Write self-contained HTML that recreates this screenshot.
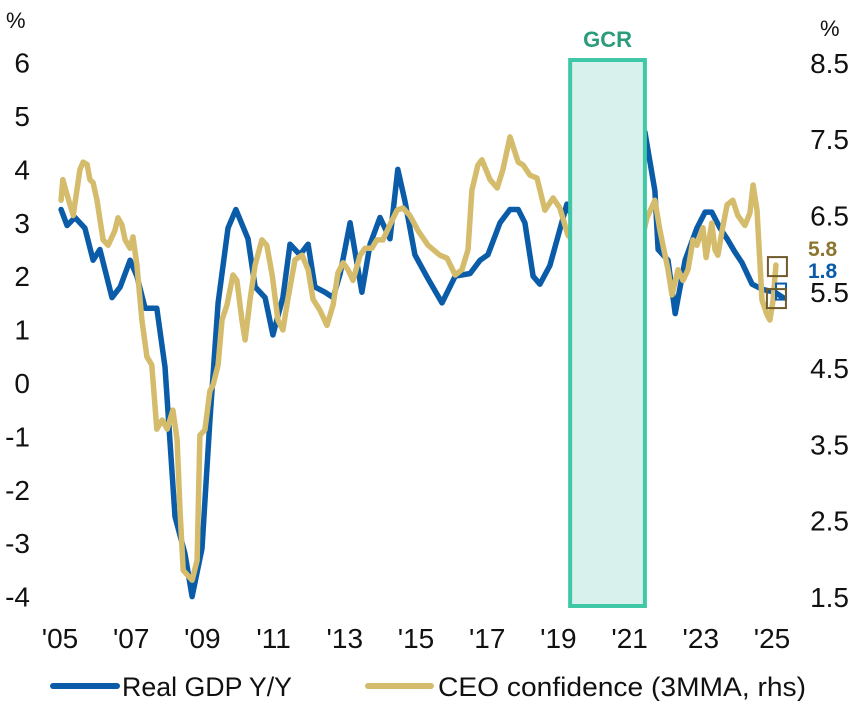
<!DOCTYPE html>
<html><head><meta charset="utf-8">
<style>
html,body{margin:0;padding:0;background:#fff;}
svg{display:block;font-family:"Liberation Sans",sans-serif;}
</style></head>
<body>
<svg id="chart" width="862" height="701" viewBox="0 0 862 701" xmlns="http://www.w3.org/2000/svg">
<g id="axes"></g>
<g id="series"></g>
<g id="overlay"></g>
<g id="legend">
  <line x1="53" y1="686" x2="117" y2="686" stroke="#0A5CA8" stroke-width="6" stroke-linecap="round"/>
  <text x="122" y="696" font-size="27" fill="#111" textLength="170" lengthAdjust="spacingAndGlyphs">Real GDP Y/Y</text>
  <line x1="368" y1="686" x2="431" y2="686" stroke="#D4BC6C" stroke-width="6" stroke-linecap="round"/>
  <text x="438" y="696" font-size="27" fill="#111" textLength="368" lengthAdjust="spacingAndGlyphs">CEO confidence (3MMA, rhs)</text>
</g>
</svg>
<script>
const gdpDates=[2005.03,2005.2,2005.42,2005.7,2005.93,2006.12,2006.46,2006.69,2006.97,2007.16,2007.39,2007.72,2007.95,2008.23,2008.51,2008.71,2008.99,2009.21,2009.44,2009.72,2009.94,2010.28,2010.48,2010.76,2010.98,2011.26,2011.46,2011.74,2011.97,2012.16,2012.44,2012.67,2012.87,2013.15,2013.48,2013.71,2013.99,2014.27,2014.49,2014.69,2014.97,2015.34,2015.73,2016.1,2016.52,2016.8,2017.02,2017.36,2017.64,2017.87,2018.06,2018.29,2018.48,2018.76,2019.24,2019.75,2020.5,2021.0,2021.43,2021.71,2021.8,2022.08,2022.28,2022.56,2022.89,2023.12,2023.31,2023.54,2023.74,2023.96,2024.16,2024.44,2024.75,2025.08,2025.31];
const gdpValues=[3.25,2.95,3.1,2.9,2.3,2.5,1.6,1.8,2.3,2.0,1.4,1.4,0.3,-2.5,-3.2,-4.0,-3.1,-0.7,1.5,2.9,3.25,2.7,1.8,1.6,0.9,1.6,2.6,2.4,2.6,1.8,1.7,1.6,2.05,3.0,1.7,2.6,3.1,2.7,4.0,3.4,2.4,1.95,1.5,2.0,2.05,2.3,2.4,3.0,3.25,3.25,3.0,2.0,1.85,2.2,3.35,2.5,-2.0,1.5,4.7,3.6,2.5,2.3,1.3,2.3,2.9,3.2,3.2,2.9,2.7,2.45,2.25,1.85,1.75,1.7,1.6];
const ceoDates=[2005.03,2005.08,2005.2,2005.37,2005.56,2005.65,2005.76,2005.84,2005.93,2006.04,2006.21,2006.35,2006.54,2006.63,2006.74,2006.83,2006.97,2007.05,2007.16,2007.3,2007.44,2007.58,2007.72,2007.87,2008.01,2008.17,2008.29,2008.37,2008.46,2008.71,2008.85,2008.93,2009.07,2009.21,2009.3,2009.44,2009.55,2009.69,2009.86,2009.97,2010.11,2010.2,2010.34,2010.48,2010.67,2010.81,2010.96,2011.12,2011.26,2011.4,2011.6,2011.8,2011.97,2012.11,2012.3,2012.5,2012.67,2012.81,2012.95,2013.09,2013.23,2013.43,2013.57,2013.76,2013.9,2014.07,2014.27,2014.47,2014.63,2014.83,2015.06,2015.34,2015.67,2015.87,2016.1,2016.29,2016.46,2016.57,2016.74,2016.85,2017.08,2017.28,2017.44,2017.64,2017.87,2018.01,2018.2,2018.4,2018.62,2018.85,2019.04,2019.27,2019.8,2020.5,2021.0,2021.49,2021.71,2021.85,2022.08,2022.19,2022.36,2022.5,2022.64,2022.78,2022.89,2023.06,2023.15,2023.31,2023.4,2023.48,2023.6,2023.74,2023.9,2024.04,2024.24,2024.38,2024.47,2024.58,2024.72,2024.86,2024.94,2025.03,2025.11];
const ceoValues=[6.7,6.97,6.77,6.5,7.1,7.2,7.17,6.97,6.93,6.7,6.18,6.11,6.3,6.47,6.38,6.18,6.07,6.22,5.85,5.13,4.65,4.54,3.7,3.82,3.7,3.95,3.56,2.64,1.85,1.72,1.98,3.62,3.69,4.2,4.28,4.54,5.13,5.33,5.72,5.65,5.13,4.87,5.4,5.85,6.18,6.11,5.72,5.13,5.0,5.4,5.92,5.98,5.79,5.4,5.26,5.06,5.33,5.75,5.88,5.79,5.65,5.98,6.07,6.07,6.18,6.18,6.38,6.57,6.6,6.5,6.3,6.11,5.98,5.94,5.72,5.79,6.05,6.83,7.16,7.23,6.97,6.86,7.1,7.53,7.2,7.16,7.03,6.99,6.57,6.73,6.6,6.24,6.0,3.0,5.5,6.47,6.7,6.31,5.79,5.46,5.79,5.65,5.79,6.18,6.11,6.34,5.95,6.4,6.05,5.98,6.31,6.64,6.7,6.5,6.37,6.53,6.9,6.57,5.39,5.2,5.13,5.39,5.85];
const leftTicks=[6,5,4,3,2,1,0,-1,-2,-3,-4];
const leftLabels=["6","5","4","3","2","1","0","-1","-2","-3","-4"];
const rightTicks=[8.5,7.5,6.5,5.5,4.5,3.5,2.5,1.5];
const rightLabels=["8.5","7.5","6.5","5.5","4.5","3.5","2.5","1.5"];
const xTicks=[2005,2007,2009,2011,2013,2015,2017,2019,2021,2023,2025];
const xLabels=["'05","'07","'09","'11","'13","'15","'17","'19","'21","'23","'25"];
const gcrPeriod=[2019.33,2021.43];
const lastGdpLabel="1.8";
const lastCeoLabel="5.8";

const NS="http://www.w3.org/2000/svg";
const X=t=>60+35.6*(t-2005);
const YL=v=>383-53.4*v;
const YR=v=>597-76.3*(v-1.5);
function mk(tag,attrs,parent,txt){const e=document.createElementNS(NS,tag);for(const k in attrs)e.setAttribute(k,attrs[k]);if(txt!==undefined)e.textContent=txt;parent.appendChild(e);return e;}
const axes=document.getElementById('axes'),series=document.getElementById('series'),overlay=document.getElementById('overlay');

let t=mk('text',{x:6,y:28,'font-size':22,fill:'#111'},axes,'%');


t=mk('text',{x:820,y:36,'font-size':22,fill:'#111'},axes,'%');


leftTicks.forEach((v,i)=>{
  const e=mk('text',{x:30,y:YL(v)+10,'font-size':28,fill:'#111','text-anchor':'end'},axes,leftLabels[i]);
  
  
});
rightTicks.forEach((v,i)=>{
  const e=mk('text',{x:849,y:YR(v)+10,'font-size':28,fill:'#111','text-anchor':'end'},axes,rightLabels[i]);
  
  
});
xTicks.forEach((v,i)=>{
  const e=mk('text',{x:X(v),y:648,'font-size':28,fill:'#111','text-anchor':'middle'},axes,xLabels[i]);
  
  
});

function line(dates,vals,yf,color,name){
  const d=dates.map((tt,i)=>(i?'L':'M')+X(tt).toFixed(1)+','+yf(vals[i]).toFixed(1)).join(' ');
  const p=mk('path',{d:d,fill:'none',stroke:color,'stroke-width':5.5,'stroke-linejoin':'round','stroke-linecap':'round'},series);
  
  
}
line(gdpDates,gdpValues,YL,'#0A5CA8','gdp-line');
line(ceoDates,ceoValues,YR,'#D4BC6C','ceo-line');

const gx1=X(gcrPeriod[0]),gx2=X(gcrPeriod[1]);
let r=mk('rect',{x:gx1,y:60,width:gx2-gx1,height:546,fill:'#D8F1EC',stroke:'#3FC7A6','stroke-width':4},overlay);


t=mk('text',{x:(gx1+gx2)/2,y:47,'font-size':22,'font-weight':'bold',fill:'#2A9B7B','text-anchor':'middle'},overlay,'GCR');



const gl=gdpDates.length-1, cl=ceoDates.length-1;
r=mk('rect',{x:X(gdpDates[gl])-7,y:YL(gdpValues[gl])-14,width:10,height:16,fill:'none',stroke:'#0A5CA8','stroke-width':2},overlay);


r=mk('rect',{x:X(ceoDates[cl])-8,y:YR(ceoValues[cl])-8,width:19,height:19,fill:'none',stroke:'#6E5A2A','stroke-width':2},overlay);


r=mk('rect',{x:X(ceoDates[cl])-9,y:YR(ceoValues[cl])+24,width:19,height:19,fill:'none',stroke:'#6E5A2A','stroke-width':2},overlay);


t=mk('text',{x:808,y:256,'font-size':21,'font-weight':'bold',fill:'#8C7530'},overlay,lastCeoLabel);


t=mk('text',{x:808,y:278,'font-size':21,'font-weight':'bold',fill:'#0A5CA8'},overlay,lastGdpLabel);


</script>
</body></html>
